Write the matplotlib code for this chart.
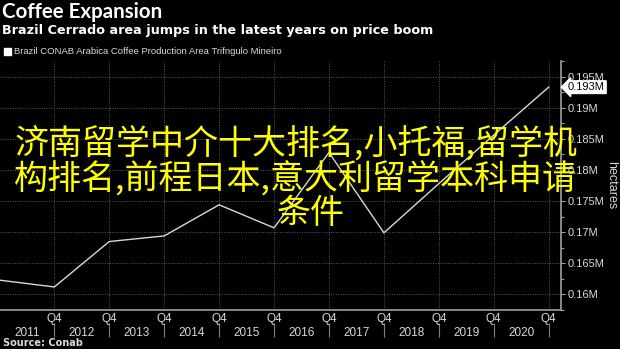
import matplotlib
matplotlib.use('Agg')
import matplotlib.pyplot as plt
from matplotlib.patches import Rectangle
import numpy as np

# Cerrado (Triangulo Mineiro) arabica area, million hectares, read at each Q4 from 2010 to 2020
area_m = [0.1623, 0.1612, 0.1685, 0.1694, 0.1744, 0.1707, 0.1828, 0.1699, 0.1778, 0.1856, 0.1933]
years = ['2011', '2012', '2013', '2014', '2015', '2016', '2017', '2018', '2019', '2020']
y_ticks = [0.16, 0.165, 0.17, 0.175, 0.18, 0.185, 0.19, 0.195]
last_label = '0.193M'

title = 'Coffee Expansion'
subtitle = 'Brazil Cerrado area jumps in the latest years on price boom'
series_name = 'Brazil CONAB Arabica Coffee Production Area Trifngulo Mineiro'
source = 'Source: Conab'
overlay = ['济南留学中介十大排名,小托福,留学机', '构排名,前程日本,意大利留学本科申请', '条件']

txt = '#d9d9d9'
grid_c = '#5a5a5a'
spine_c = '#a0a0a0'

W, H = 620, 349
fig = plt.figure(figsize=(W / 100, H / 100), dpi=100, facecolor='black')
ax = fig.add_axes([0, 1 - 310 / H, 561 / W, 249 / H], facecolor='black')

x = np.arange(len(area_m))
ax.plot(x, area_m, color='#d8d8d8', linewidth=1.0, zorder=3)

ax.set_xlim(0.011, 10.224)
ax.set_ylim(0.15793, 0.1966)

# y axis on the right
ax.yaxis.tick_right()
ax.set_yticks(y_ticks)
ax.set_yticklabels([f'{v:g}M' for v in y_ticks])
ax.set_yticks(np.arange(0.1575, 0.1975, 0.005), minor=True)
ax.tick_params(axis='y', which='major', colors=spine_c, labelcolor=txt, length=3, width=0.8,
               pad=2, labelsize=8)
ax.tick_params(axis='y', which='minor', colors=spine_c, length=2, width=0.8)
for lab in ax.get_yticklabels():
    lab.set_family('Liberation Sans')

# x axis: Q4 ticks and year labels in between
q4_pos = x[1:]
ax.set_xticks(q4_pos)
ax.set_xticklabels(['Q4'] * len(q4_pos))
ax.set_xticks(q4_pos - 0.5, minor=True)
ax.set_xticklabels(years, minor=True)
ax.tick_params(axis='x', which='major', length=0, pad=2.2, labelsize=8.5, labelcolor=txt)
ax.tick_params(axis='x', which='minor', length=0, pad=12.3, labelsize=8.5, labelcolor=txt)
for lab in ax.get_xticklabels() + ax.get_xticklabels(minor=True):
    lab.set_family('Liberation Sans')

# separators between the year labels
sep = ax.secondary_xaxis(-13 / 249)
sep.set_xticks(q4_pos)
sep.set_xticklabels([])
sep.tick_params(axis='x', length=10, width=0.8, colors='#808080', direction='out')
sep.spines['bottom'].set_visible(False)

ax.grid(True, which='major', color=grid_c, linestyle=(0, (1, 1.5)), linewidth=0.7)
for s in ['top', 'left']:
    ax.spines[s].set_visible(False)
for s in ['bottom', 'right']:
    ax.spines[s].set_color(spine_c)
    ax.spines[s].set_linewidth(1.2)

# last value tag
ax.annotate(last_label, xy=(1.0, area_m[-1]), xycoords=('axes fraction', 'data'),
            xytext=(5, 0), textcoords='offset points', va='center', ha='left',
            fontsize=8, family='Liberation Sans', color='black',
            bbox=dict(boxstyle='larrow,pad=0.12', fc='white', ec='white'), annotation_clip=False)

ax.text(1.09, 0.5, 'hectares', transform=ax.transAxes, rotation=270, va='center', ha='center',
        fontsize=9, color=txt, family='Liberation Sans')

# titles, legend and source
fig.text(2 / W, 1 - 12.5 / H, title, color='white', fontsize=14.8, fontweight='bold',
         family='Lato', va='center', ha='left')
fig.text(2 / W, 1 - 30.5 / H, subtitle, color='white', fontsize=9.2, fontweight='bold',
         family='DejaVu Sans', va='center', ha='left')
handle = Rectangle((0, 0), 1, 1, facecolor='white', edgecolor='white')
leg = ax.legend([handle], [series_name], loc='center left', bbox_to_anchor=(4 / W, 1 - 52 / H),
                bbox_transform=fig.transFigure, frameon=False, handlelength=0.7, handleheight=0.7,
                handletextpad=0.35, borderpad=0, borderaxespad=0,
                prop={'family': 'Liberation Sans', 'size': 6.8})
for t in leg.get_texts():
    t.set_color(txt)
fig.text(3 / W, 1 - 343 / H, source, color=txt, fontsize=7, fontweight='bold',
         family='DejaVu Sans', va='center', ha='left')

# yellow overlay text
cjk = ['Noto Sans CJK SC', 'DejaVu Sans']
for line, xc, yc in zip(overlay, [296, 295, 311], [144, 180, 214]):
    fig.text(xc / W, 1 - yc / H, line, color='#ffff00', fontsize=24.5, family=cjk,
             fontweight='medium', ha='center', va='center', zorder=10)

fig.savefig('out.png', dpi=100, facecolor='black')
